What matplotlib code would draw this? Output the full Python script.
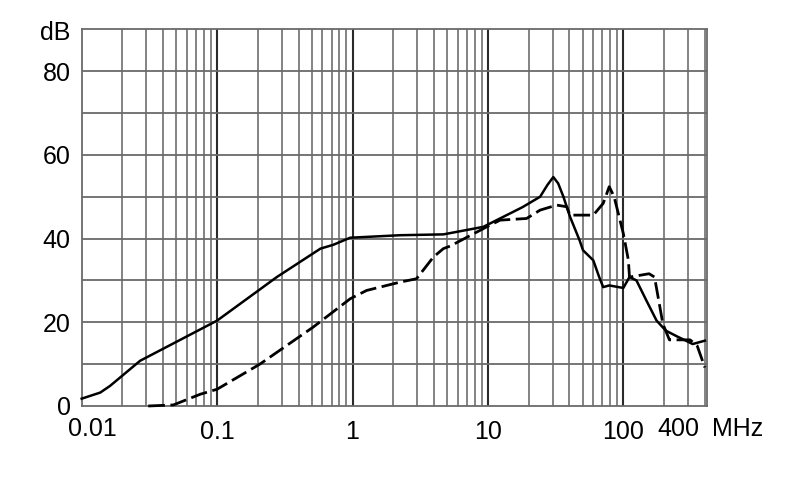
import numpy as np
import matplotlib
matplotlib.use("Agg")
import matplotlib.pyplot as plt

plt.rcParams['font.family'] = ['Liberation Sans', 'DejaVu Sans']

# solid curve (MHz, dB)
solid_f = [0.01, 0.0137, 0.0162, 0.027, 0.1, 0.276, 0.58, 0.72, 0.96, 2.25, 4.69,
           9.25, 18.0, 24.3, 27.5, 30.4, 33.0, 36.1, 40.4, 47.5, 50.4, 60, 66, 71,
           78.7, 100, 111, 125, 148, 176, 206, 250, 290, 325, 400]
solid_db = [1.75, 3.2, 4.8, 10.8, 20.4, 30.8, 37.6, 38.5, 40.2, 40.8, 41.0,
            42.8, 47.5, 50.0, 52.8, 54.7, 53.2, 50.0, 45.2, 39.6, 37.2, 34.8, 31.0, 28.4,
            28.8, 28.2, 30.8, 30.0, 25.2, 20.4, 18.0, 16.6, 15.6, 14.8, 15.6]

# dashed curve (MHz, dB)
dash_f = [0.031, 0.0476, 0.075, 0.1, 0.207, 0.51, 0.96, 1.27, 2.25, 2.97, 3.96,
          4.69, 5.26, 9.8, 12.3, 19.3, 24.3, 32.2, 38.2, 40.4, 60, 71, 78.7, 85.5,
          100, 105, 109, 111, 155, 170, 196, 219, 247, 311, 351, 400]
dash_db = [0.0, 0.25, 2.8, 4.0, 10.0, 18.8, 25.6, 27.6, 29.6, 30.4, 35.6,
           37.6, 38.2, 42.8, 44.4, 44.8, 46.8, 48.0, 47.6, 45.6, 45.6, 48.4, 52.4, 50.0,
           41.2, 37.6, 34.8, 30.8, 31.6, 30.8, 19.6, 15.8, 15.8, 15.8, 14.4, 9.2]

y_ticks = [0, 20, 40, 60, 80]
x_ticks = [0.01, 0.1, 1, 10, 100]
x_labels = ['', '0.1', '1', '10', '100']

fig = plt.figure(figsize=(7.9, 4.99), dpi=100)
ax = fig.add_axes([0.1034, 0.1864, 0.7912, 0.7549])
ax.set_xscale('log')
ax.set_xlim(0.01, 413)
ax.set_ylim(0, 90)

# grid
minor = []
for dec in [0.01, 0.1, 1, 10, 100]:
    for k in range(2, 10):
        v = dec * k
        if v < 413:
            minor.append(v)
for v in minor:
    ax.axvline(v, color='#7a7a7a', lw=1.3, zorder=1)
for v in x_ticks[1:]:
    ax.axvline(v, color='#2a2a2a', lw=1.5, zorder=1)
for v in range(10, 90, 10):
    ax.axhline(v, color='#6a6a6a', lw=1.3, zorder=1)
for s in ax.spines.values():
    s.set_color('#6a6a6a')
    s.set_linewidth(1.3)

ax.plot(solid_f, solid_db, color='black', lw=1.8, zorder=3, clip_on=False)
ax.plot(dash_f, dash_db, color='black', lw=2.0, dashes=(6, 2), zorder=3, clip_on=False)

ax.set_xticks(x_ticks)
ax.set_xticklabels(x_labels)
ax.xaxis.set_minor_locator(matplotlib.ticker.NullLocator())
ax.set_yticks(y_ticks)
ax.tick_params(length=0, labelsize=18, pad=10)
ax.tick_params(axis='y', pad=8)

fs = 18
ax.text(0.0165, -0.03, '0.01', transform=ax.transAxes, ha='center', va='top', fontsize=fs)
ax.text(0.954, -0.03, '400', transform=ax.transAxes, ha='center', va='top', fontsize=fs)
ax.text(1.008, -0.03, 'MHz', transform=ax.transAxes, ha='left', va='top', fontsize=fs)
ax.text(-0.018, 0.99, 'dB', transform=ax.transAxes, ha='right', va='center', fontsize=fs)

fig.savefig('out.png', dpi=100)
